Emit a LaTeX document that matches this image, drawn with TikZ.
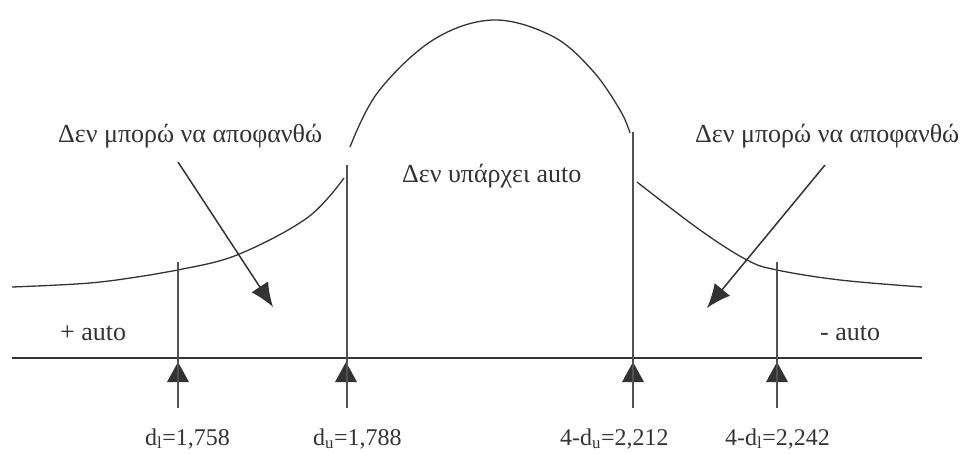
\documentclass[tikz,border=0pt]{standalone}
\usepackage{fontspec}
\setmainfont{Liberation Serif}
\usetikzlibrary{arrows.meta}
\definecolor{ink}{HTML}{333333}
\tikzset{
  curve/.style={draw=ink, line width=1.3pt},
  vline/.style={draw=ink!85, line width=1.2pt},
  axisline/.style={draw=ink, line width=1.3pt},
  bigarrow/.style={draw=ink, line width=1.5pt, -{Latex[length=24pt,width=20pt]}},
  mark tri/.style={fill=ink},
  lbl/.style={font=\fontsize{26}{30}\selectfont, text=ink, inner sep=0pt, anchor=base west},
  vlbl/.style={font=\fontsize{24}{28}\selectfont, text=ink, inner sep=0pt, anchor=base west},
}
\begin{document}
\begin{tikzpicture}[x=1pt,y=-1pt]
\useasboundingbox (0,0) rectangle (968,453);
% axis
\coordinate (axL) at (12,358);
\coordinate (axR) at (922,358);
\draw[axisline] (axL) -- (axR);
% curves
\draw[curve] plot[smooth, tension=0.6] coordinates {(12,287) (90,283) (150,275) (178,270) (237,255) (307,218) (344,178)};
\draw[curve] plot[smooth, tension=0.6] coordinates {(350,147) (378,92) (433,40) (493,20) (552,36) (592,70) (620,110) (630,133)};
\draw[curve] plot[smooth, tension=0.6] coordinates {(637,182) (700,230) (747,260) (777,270) (840,280) (922,287)};
% markers
\foreach \x in {178,346,633,777}{
  \fill[mark tri] (\x,362) -- (\x+11,382) -- (\x-11,382) -- cycle;
}
% vertical lines
\coordinate (v1t) at (178,262); \coordinate (v1b) at (178,408);
\coordinate (v2t) at (347,165); \coordinate (v2b) at (347,408);
\coordinate (v3t) at (633,132); \coordinate (v3b) at (633,408);
\coordinate (v4t) at (777,262); \coordinate (v4b) at (777,408);
\draw[vline] (v1t) -- (v1b);
\draw[vline] (v2t) -- (v2b);
\draw[vline] (v3t) -- (v3b);
\draw[vline] (v4t) -- (v4b);
% arrows
\coordinate (la0) at (178,162); \coordinate (la1) at (273,307);
\coordinate (ra0) at (825,165); \coordinate (ra1) at (707,308);
\draw[bigarrow] (la0) -- (la1);
\draw[bigarrow] (ra0) -- (ra1);
% labels
\node[lbl] (tl) at (58,142) {Δεν μπορώ να αποφανθώ};
\node[lbl] (tr) at (695,142) {Δεν μπορώ να αποφανθώ};
\node[lbl] (tc) at (402,182) {Δεν υπάρχει auto};
\node[lbl] (plus) at (60,340) {+ auto};
\node[lbl] (minus) at (820,340) {- auto};
\node[vlbl] (b1) at (145,445) {d\textsubscript{l}=1,758};
\node[vlbl] (b2) at (313,445) {d\textsubscript{u}=1,788};
\node[vlbl] (b3) at (560,445) {4-d\textsubscript{u}=2,212};
\node[vlbl] (b4) at (725,445) {4-d\textsubscript{l}=2,242};
\end{tikzpicture}
\end{document}
